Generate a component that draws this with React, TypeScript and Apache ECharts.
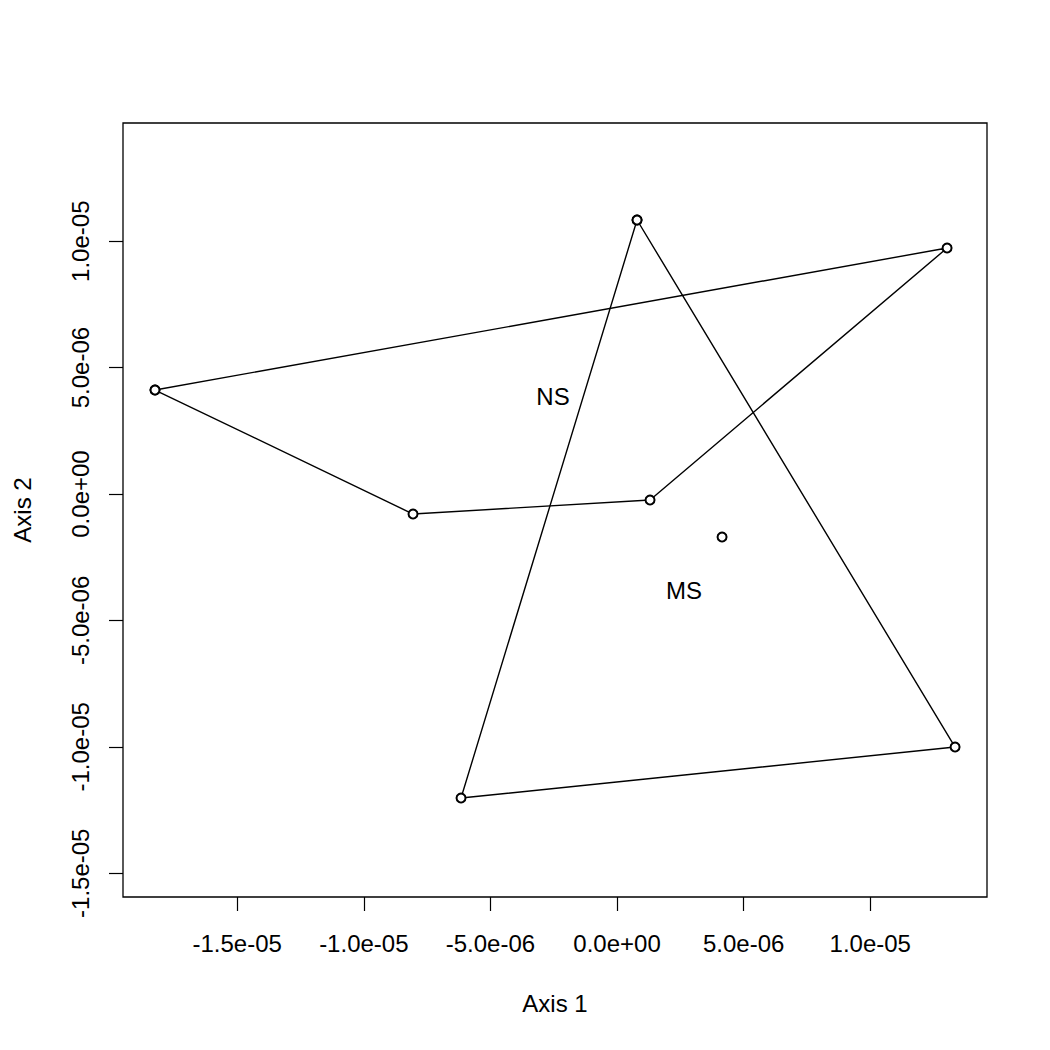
import React, { useEffect, useRef } from "react";
import * as echarts from "echarts";

// NS hull (closed polygon)
const nsX = [-1.8246e-5, 1.3033e-5, 1.303e-6, -8.057e-6, -1.8246e-5];
const nsY = [4.114e-6, 9.731e-6, -2.37e-7, -7.91e-7, 4.114e-6];
// MS hull (closed polygon)
const msX = [7.9e-7, 1.3349e-5, -6.161e-6, 7.9e-7];
const msY = [1.0839e-5, -1.0008e-5, -1.2025e-5, 1.0839e-5];
// isolated point
const loneX = [4.147e-6];
const loneY = [-1.701e-6];
// group labels
const labelNames = ["NS", "MS"];
const labelX = [-2.528e-6, 2.646e-6];
const labelY = [3.877e-6, -3.797e-6];

const xTicks = [-1.5e-5, -1.0e-5, -5e-6, 0, 5e-6, 1.0e-5];
const yTicks = [-1.5e-5, -1.0e-5, -5e-6, 0, 5e-6, 1.0e-5];
const xRange = [-1.951e-5, 1.461e-5];
const yRange = [-1.594e-5, 1.4676e-5];

const fmt = (v: number) => {
  if (Math.abs(v) < 1e-12) return "0.0e+00";
  const s = v.toExponential(1);
  const m = s.match(/^(-?[\d.]+)e([+-])(\d+)$/);
  if (!m) return s;
  return `${m[1]}e${m[2]}${m[3].padStart(2, "0")}`;
};

const FONT = "'Liberation Sans', Arial, Helvetica, sans-serif";

export default function App() {
  const ref = useRef<HTMLDivElement>(null);
  useEffect(() => {
    if (!ref.current) return;
    const chart = echarts.init(ref.current, undefined, { renderer: "svg" });
    const zip = (xs: number[], ys: number[]) => xs.map((x, i) => [x, ys[i]]);
    chart.setOption({
      animation: false,
      backgroundColor: "#ffffff",
      grid: {
        left: 123,
        top: 123,
        width: 864,
        height: 774,
        show: true,
        borderColor: "#000",
        borderWidth: 1.3,
        backgroundColor: "transparent",
      },
      xAxis: {
        type: "value",
        min: xRange[0],
        max: xRange[1],
        name: "Axis 1",
        nameLocation: "middle",
        nameGap: 94,
        nameTextStyle: { fontFamily: FONT, fontSize: 24, color: "#000" },
        axisLine: { show: false, onZero: false },
        splitLine: { show: false },
        axisTick: {
          show: true,
          length: 14,
          customValues: xTicks,
          lineStyle: { color: "#000", width: 1.2 },
        },
        axisLabel: {
          show: true,
          customValues: xTicks,
          formatter: (v: number) => fmt(v),
          margin: 34,
          fontFamily: FONT,
          fontSize: 24,
          color: "#000",
        },
      },
      yAxis: {
        type: "value",
        min: yRange[0],
        max: yRange[1],
        name: "Axis 2",
        nameLocation: "middle",
        nameGap: 89,
        nameTextStyle: { fontFamily: FONT, fontSize: 24, color: "#000" },
        axisLine: { show: false, onZero: false },
        splitLine: { show: false },
        axisTick: {
          show: true,
          length: 14,
          customValues: yTicks,
          lineStyle: { color: "#000", width: 1.2 },
        },
        axisLabel: {
          show: true,
          customValues: yTicks,
          formatter: (v: number) => fmt(v),
          rotate: 90,
          margin: 31,
          fontFamily: FONT,
          fontSize: 24,
          color: "#000",
        },
      },
      series: [
        {
          type: "line",
          data: zip(nsX, nsY),
          symbol: "emptyCircle",
          symbolSize: 9,
          lineStyle: { color: "#000", width: 1.4 },
          itemStyle: { color: "#000", borderColor: "#000", borderWidth: 1.2 },
        },
        {
          type: "line",
          data: zip(msX, msY),
          symbol: "emptyCircle",
          symbolSize: 9,
          lineStyle: { color: "#000", width: 1.4 },
          itemStyle: { color: "#000", borderColor: "#000", borderWidth: 1.2 },
        },
        {
          type: "scatter",
          data: zip(loneX, loneY),
          symbol: "emptyCircle",
          symbolSize: 9,
          itemStyle: { color: "#000", borderColor: "#000", borderWidth: 1.2, opacity: 1 },
        },
        {
          type: "scatter",
          data: labelNames.map((n, i) => ({ name: n, value: [labelX[i], labelY[i]] })),
          symbolSize: 0,
          itemStyle: { opacity: 1 },
          label: {
            show: true,
            position: "inside",
            formatter: (p: any) => p.name,
            fontFamily: FONT,
            fontSize: 24,
            color: "#000",
            textBorderWidth: 0,
            textBorderColor: "transparent",
          },
        },
      ],
    });
    return () => chart.dispose();
  }, []);
  return (
    <div
      ref={ref}
      style={{ position: "fixed", left: 0, top: 0, width: 1050, height: 1050, background: "#fff" }}
    />
  );
}
